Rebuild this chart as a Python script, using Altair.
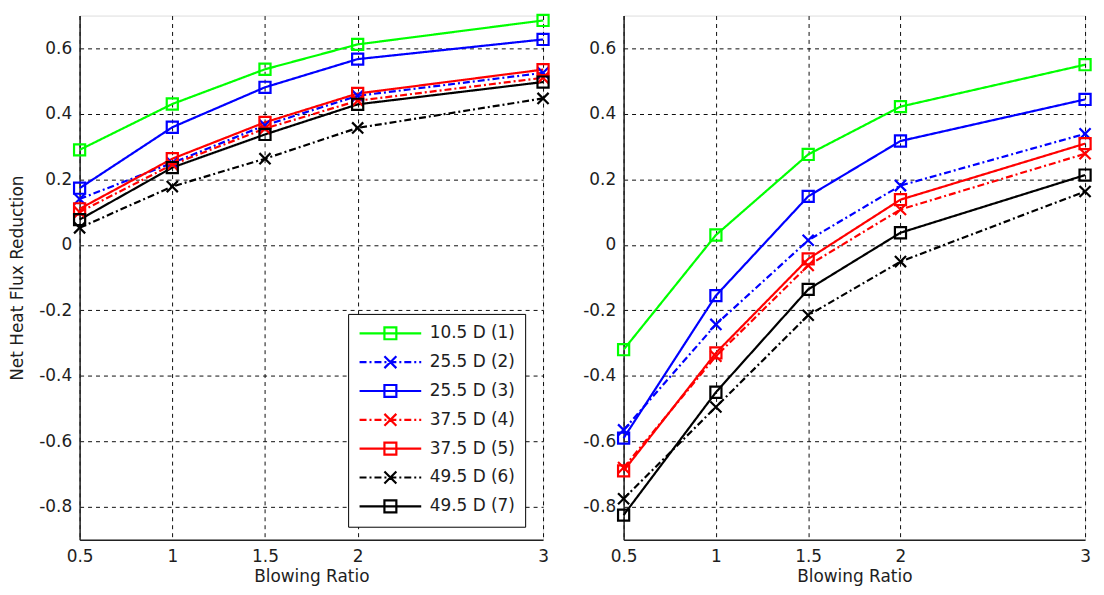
import altair as alt
import pandas as pd

# ---------------- data ----------------
blowing_ratio = [0.5, 1.0, 1.5, 2.0, 3.0]
x_ticks = [0.5, 1, 1.5, 2, 3]
y_ticks = [-0.8, -0.6, -0.4, -0.2, 0, 0.2, 0.4, 0.6]

series_names = [
    "10.5 D (1)",
    "25.5 D (2)",
    "25.5 D (3)",
    "37.5 D (4)",
    "37.5 D (5)",
    "49.5 D (6)",
    "49.5 D (7)",
]
series_colors = ["#00ff00", "#0000ff", "#0000ff", "#ff0000", "#ff0000", "#000000", "#000000"]
series_markers = ["square", "x", "square", "x", "square", "x", "square"]
series_styles = ["solid", "dashdot", "solid", "dashdot", "solid", "dashdot", "solid"]

left_values = [
    [0.29, 0.43, 0.536, 0.612, 0.685],
    [0.14, 0.25, 0.365, 0.455, 0.525],
    [0.173, 0.359, 0.481, 0.567, 0.627],
    [0.10, 0.245, 0.355, 0.44, 0.51],
    [0.11, 0.263, 0.374, 0.462, 0.535],
    [0.052, 0.178, 0.263, 0.357, 0.447],
    [0.077, 0.236, 0.337, 0.429, 0.497],
]
right_values = [
    [-0.32, 0.03, 0.276, 0.422, 0.55],
    [-0.565, -0.243, 0.014, 0.181, 0.339],
    [-0.59, -0.155, 0.148, 0.317, 0.444],
    [-0.68, -0.34, -0.063, 0.108, 0.278],
    [-0.69, -0.33, -0.043, 0.138, 0.309],
    [-0.775, -0.495, -0.215, -0.051, 0.163],
    [-0.825, -0.45, -0.136, 0.037, 0.213],
]

# ---------------- styles ----------------
X_PATH = "M-1,-1L1,1M-1,1L1,-1"
marker_shape = {"square": "square", "x": X_PATH}
dash_of = {"solid": [1, 0], "dashdot": [7, 3, 2, 3]}

FONT = "DejaVu Sans"
FS = 17
TXT = "#1e1e1e"
PLOT_H = 527

# legend symbols: line segment + marker drawn as one custom path
LS = 8.0  # px per path unit (symbolSize 256 -> sqrt/2 = 8)


def seg_path(style, x0=-8, x1=54):
    if style == "solid":
        return f"M{x0/LS:.3f},0H{x1/LS:.3f}"
    pat = dash_of[style]
    out, x, i = [], x0, 0
    while x < x1:
        L = pat[i % len(pat)]
        if i % 2 == 0:
            out.append(f"M{x/LS:.3f},0H{min(x + L, x1)/LS:.3f}")
        x += L
        i += 1
    return "".join(out)


def mark_path(marker, c=23, h=6):
    a, b, r = (c - h) / LS, (c + h) / LS, h / LS
    if marker == "square":
        return f"M{a:.3f},{-r:.3f}H{b:.3f}V{r:.3f}H{a:.3f}Z"
    return f"M{a:.3f},{-r:.3f}L{b:.3f},{r:.3f}M{a:.3f},{r:.3f}L{b:.3f},{-r:.3f}"


legend_paths = [seg_path(s) + mark_path(m) for s, m in zip(series_styles, series_markers)]


def build_df(values):
    rows = []
    for i, name in enumerate(series_names):
        for xv, yv in zip(blowing_ratio, values[i]):
            rows.append({
                "series": name,
                "ratio": xv,
                "value": yv,
                "col": series_colors[i],
                "marker": marker_shape[series_markers[i]],
            })
    return pd.DataFrame(rows)


axis_common = dict(
    grid=True, gridColor="#000000", gridDash=[4, 4], gridWidth=1, gridOpacity=0.95,
    ticks=False, domainColor="#222222", domainWidth=1.5,
    labelFont=FONT, labelFontSize=FS, labelColor=TXT,
    labelFlush=False, labelOverlap=False,
    titleFont=FONT, titleFontSize=FS, titleFontWeight="normal", titleColor=TXT,
    labelExpr="'' + datum.value",
)


def panel(values, show_ytitle, show_legend, w):
    df = build_df(values)
    base = alt.Chart(df)
    x = alt.X("ratio:Q", scale=alt.Scale(domain=[0.5, 3], nice=False, zero=False),
              axis=alt.Axis(values=x_ticks, title="Blowing Ratio", titlePadding=4,
                            labelPadding=9, **axis_common))
    y = alt.Y("value:Q", scale=alt.Scale(domain=[-0.9, 0.7], nice=False, zero=False),
              axis=alt.Axis(values=y_ticks,
                            title="Net Heat Flux Reduction" if show_ytitle else None,
                            titlePadding=12, labelPadding=8, **axis_common))
    lines = base.mark_line(strokeWidth=2.2).encode(
        x=x, y=y,
        color=alt.Color("col:N", scale=None),
        strokeDash=alt.StrokeDash("series:N", scale=alt.Scale(domain=series_names,
                                  range=[dash_of[s] for s in series_styles]), legend=None),
        detail="series:N",
        order="ratio:Q",
    )
    points = base.mark_point(filled=False, strokeWidth=2.2, size=125, opacity=1).encode(
        x=x, y=y,
        color=alt.Color("col:N", scale=None),
        shape=alt.Shape("marker:N", scale=None),
    )
    layers = [lines, points]
    if show_legend:
        leg = dict(title=None, orient="none", legendX=w - 196, legendY=PLOT_H - 15 - 212,
                   direction="vertical",
                   fillColor="white", strokeColor="#000000", padding=10, cornerRadius=0,
                   labelFont=FONT, labelFontSize=FS, labelColor=TXT, labelLimit=400,
                   symbolSize=256, symbolStrokeWidth=2.2, labelOffset=53, rowPadding=8)
        legend_layer = base.transform_filter("false").mark_point(
            filled=False, strokeWidth=2.2, opacity=1).encode(
            x=x, y=y,
            color=alt.Color("series:N", scale=alt.Scale(domain=series_names, range=series_colors),
                            legend=alt.Legend(**leg)),
            shape=alt.Shape("series:N", scale=alt.Scale(domain=series_names, range=legend_paths),
                            legend=alt.Legend(**leg)),
        )
        layers.append(legend_layer)
    return alt.layer(*layers).resolve_scale(color="independent", shape="independent").properties(
        width=w, height=PLOT_H)


left = panel(left_values, True, True, 466)
right = panel(right_values, False, False, 464)

chart = alt.hconcat(left, right, spacing=28).properties(
    padding={"left": 0, "top": 0, "right": 0, "bottom": 0}
).configure_view(stroke=None).configure(font=FONT)

chart.save("out.html", embed_options={"renderer": "svg", "actions": False})
